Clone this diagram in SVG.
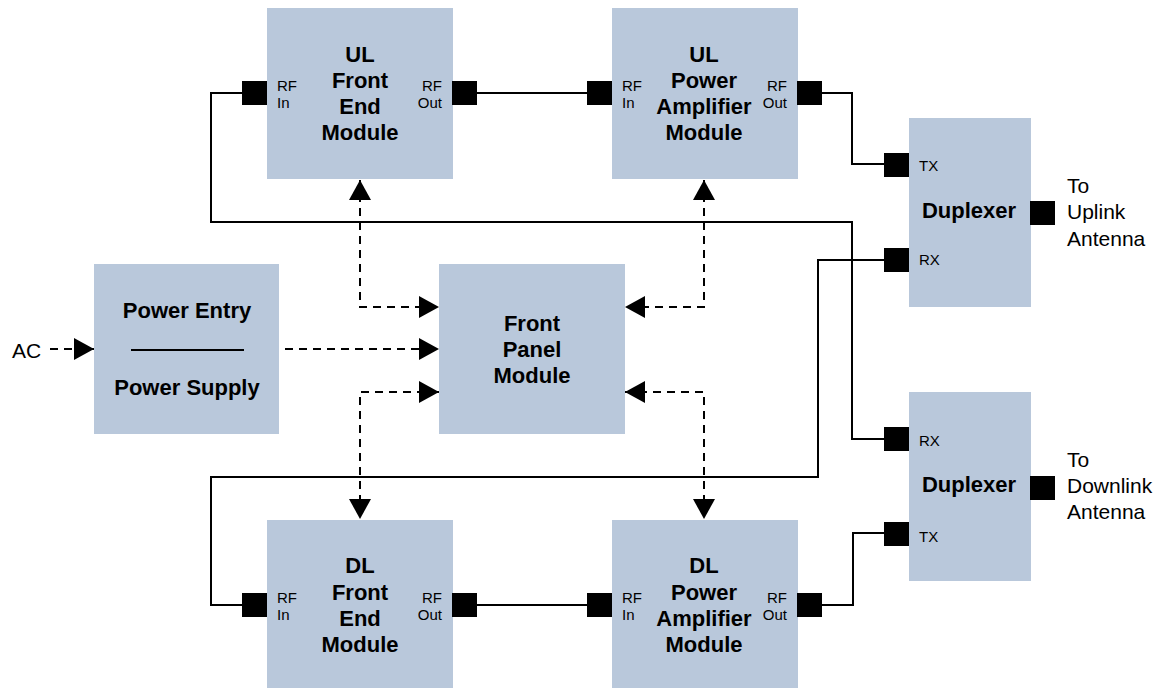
<svg xmlns="http://www.w3.org/2000/svg" width="1166" height="688" viewBox="0 0 1166 688">
<defs>
<style>
.box{fill:#b9c8db}
.port{fill:#000}
.t{font-family:"Liberation Sans",Arial,sans-serif;font-size:22px;font-weight:bold;fill:#000;text-anchor:middle}
.s{font-family:"Liberation Sans",Arial,sans-serif;font-size:15px;fill:#000}
.l{font-family:"Liberation Sans",Arial,sans-serif;font-size:21px;fill:#000}
.w{fill:none;stroke:#000;stroke-width:2}
.d{fill:none;stroke:#000;stroke-width:2;stroke-dasharray:8 6}
</style>
<marker id="ah" viewBox="0 0 20 22" refX="20" refY="11" markerWidth="20" markerHeight="22" markerUnits="userSpaceOnUse" orient="auto-start-reverse">
<path d="M0,0 L20,11 L0,22 Z" fill="#000"/>
</marker>
</defs>
<rect width="1166" height="688" fill="#fff"/>
<g id="connectors">
<path class="w" d="M477,93 H587"/>
<path class="w" d="M477,605 H587"/>
<path class="w" d="M822,93 H852 V164 H884"/>
<path class="w" d="M242,93 H211 V222 H852 V439 H884"/>
<path class="w" d="M884,260 H818 V477 H211 V605 H242"/>
<path class="w" d="M884,533 H853 V605 H822"/>
<path class="d" d="M50,349 H94" marker-end="url(#ah)"/>
<path class="d" d="M285,349 H439" marker-end="url(#ah)"/>
<path class="d" d="M360,180 V307 H439" marker-start="url(#ah)" marker-end="url(#ah)"/>
<path class="d" d="M704,180 V307 H625" marker-start="url(#ah)" marker-end="url(#ah)"/>
<path class="d" d="M439,392 H360 V519" marker-start="url(#ah)" marker-end="url(#ah)"/>
<path class="d" d="M625,392 H704 V519" marker-start="url(#ah)" marker-end="url(#ah)"/>
</g>
<g id="ul-fe">
<rect class="box" x="267" y="8" width="186" height="171"/>
<rect class="port" x="242" y="81" width="25" height="24"/>
<rect class="port" x="452" y="81" width="25" height="24"/>
<text class="t" x="360" y="62">UL</text>
<text class="t" x="360" y="88">Front</text>
<text class="t" x="360" y="114">End</text>
<text class="t" x="360" y="140">Module</text>
<text class="s" x="277" y="91">RF</text>
<text class="s" x="277" y="108">In</text>
<text class="s" x="442" y="91" text-anchor="end">RF</text>
<text class="s" x="442" y="108" text-anchor="end">Out</text>
</g>
<g id="ul-pa">
<rect class="box" x="612" y="8" width="186" height="171"/>
<rect class="port" x="587" y="81" width="25" height="24"/>
<rect class="port" x="797" y="81" width="25" height="24"/>
<text class="t" x="704" y="62">UL</text>
<text class="t" x="704" y="88">Power</text>
<text class="t" x="704" y="114">Amplifier</text>
<text class="t" x="704" y="140">Module</text>
<text class="s" x="622" y="91">RF</text>
<text class="s" x="622" y="108">In</text>
<text class="s" x="787" y="91" text-anchor="end">RF</text>
<text class="s" x="787" y="108" text-anchor="end">Out</text>
</g>
<g id="dup-ul">
<rect class="box" x="909" y="118" width="122" height="189"/>
<rect class="port" x="884" y="153" width="25" height="24"/>
<rect class="port" x="884" y="248" width="25" height="24"/>
<rect class="port" x="1030" y="201" width="25" height="24"/>
<text class="s" x="919" y="171">TX</text>
<text class="s" x="919" y="265">RX</text>
<text class="t" x="969" y="218">Duplexer</text>
<text class="l" x="1067" y="193">To</text>
<text class="l" x="1067" y="219">Uplink</text>
<text class="l" x="1067" y="246">Antenna</text>
</g>
<g id="dup-dl">
<rect class="box" x="909" y="392" width="122" height="189"/>
<rect class="port" x="884" y="427" width="25" height="24"/>
<rect class="port" x="884" y="522" width="25" height="24"/>
<rect class="port" x="1030" y="476" width="25" height="24"/>
<text class="s" x="919" y="446">RX</text>
<text class="s" x="919" y="542">TX</text>
<text class="t" x="969" y="492">Duplexer</text>
<text class="l" x="1067" y="467">To</text>
<text class="l" x="1067" y="493">Downlink</text>
<text class="l" x="1067" y="519">Antenna</text>
</g>
<g id="power">
<rect class="box" x="94" y="264" width="185" height="170"/>
<text class="t" x="187" y="318">Power Entry</text>
<path class="w" d="M131,350 H244"/>
<text class="t" x="187" y="395">Power Supply</text>
<text class="l" x="12" y="358">AC</text>
</g>
<g id="front-panel">
<rect class="box" x="439" y="264" width="186" height="170"/>
<text class="t" x="532" y="331">Front</text>
<text class="t" x="532" y="357">Panel</text>
<text class="t" x="532" y="383">Module</text>
</g>
<g id="dl-fe">
<rect class="box" x="267" y="520" width="186" height="168"/>
<rect class="port" x="242" y="593" width="25" height="24"/>
<rect class="port" x="452" y="593" width="25" height="24"/>
<text class="t" x="360" y="573">DL</text>
<text class="t" x="360" y="600">Front</text>
<text class="t" x="360" y="626">End</text>
<text class="t" x="360" y="652">Module</text>
<text class="s" x="277" y="603">RF</text>
<text class="s" x="277" y="620">In</text>
<text class="s" x="442" y="603" text-anchor="end">RF</text>
<text class="s" x="442" y="620" text-anchor="end">Out</text>
</g>
<g id="dl-pa">
<rect class="box" x="612" y="520" width="186" height="168"/>
<rect class="port" x="587" y="593" width="25" height="24"/>
<rect class="port" x="797" y="593" width="25" height="24"/>
<text class="t" x="704" y="573">DL</text>
<text class="t" x="704" y="600">Power</text>
<text class="t" x="704" y="626">Amplifier</text>
<text class="t" x="704" y="652">Module</text>
<text class="s" x="622" y="603">RF</text>
<text class="s" x="622" y="620">In</text>
<text class="s" x="787" y="603" text-anchor="end">RF</text>
<text class="s" x="787" y="620" text-anchor="end">Out</text>
</g>
</svg>
